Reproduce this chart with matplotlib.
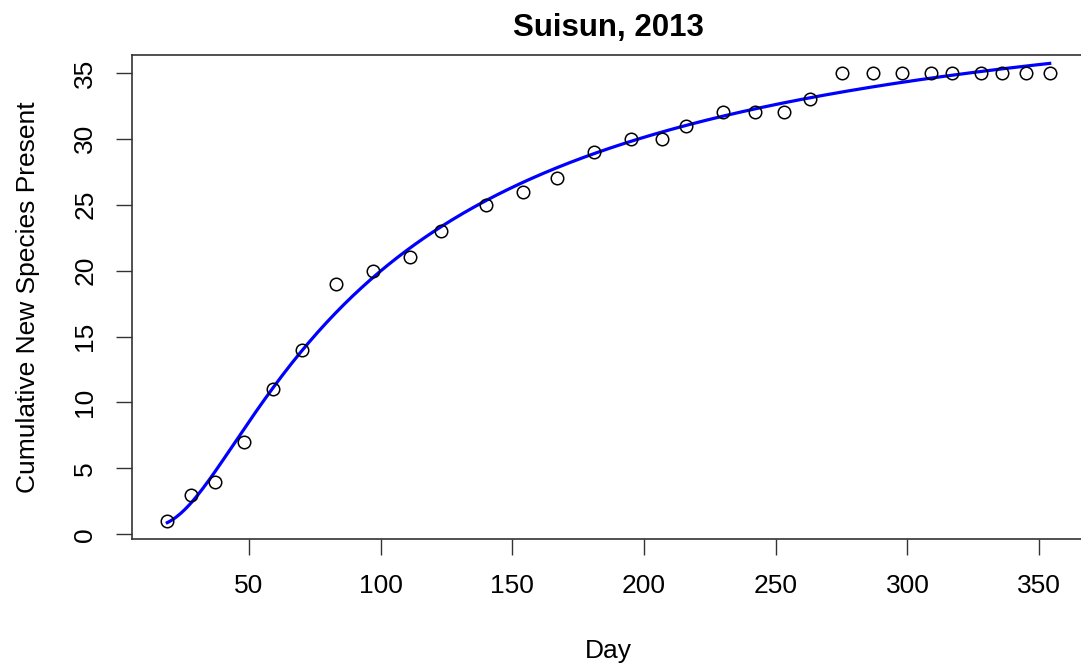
import numpy as np
import matplotlib.pyplot as plt

# Sampling day and cumulative count of new species seen by that day
days = np.array([19, 28, 37, 48, 59, 70, 83, 97, 111, 123, 140, 154, 167, 181,
                 195, 207, 216, 230, 242, 253, 263, 275, 287, 298, 309, 317,
                 328, 336, 345, 354])
species = np.array([1, 3, 4, 7, 11, 14, 19, 20, 21, 23, 25, 26, 27, 29,
                    30, 30, 31, 32, 32, 32, 33, 35, 35, 35, 35, 35,
                    35, 35, 35, 35])

title = 'Suisun, 2013'
xlabel = 'Day'
ylabel = 'Cumulative New Species Present'
xticks = [50, 100, 150, 200, 250, 300, 350]
yticks = [0, 5, 10, 15, 20, 25, 30, 35]


def fit_w14(x, y):
    # four-parameter Weibull (type 1, negative slope):
    # y = c + (d - c) * exp(-(e / x)^k); grid over (k, e), c and d by least squares
    ks = np.linspace(0.3, 5, 236)
    es = np.linspace(10, 400, 391)
    K, E = np.meshgrid(ks, es, indexing='ij')
    G = np.exp(-(E[..., None] / x) ** K[..., None])
    gm = G.mean(-1, keepdims=True)
    ym = y.mean()
    slope = ((G - gm) * (y - ym)).sum(-1) / ((G - gm) ** 2).sum(-1)
    inter = ym - slope * gm[..., 0]
    sse = ((inter[..., None] + slope[..., None] * G - y) ** 2).sum(-1)
    i, j = np.unravel_index(np.argmin(sse), sse.shape)
    k, e, c, s = ks[i], es[j], inter[i, j], slope[i, j]
    return lambda t: c + s * np.exp(-(e / t) ** k)


model = fit_w14(days.astype(float), species.astype(float))
xs = np.linspace(days.min(), days.max(), 400)

plt.rcParams['font.family'] = ['Liberation Sans', 'DejaVu Sans']

fig = plt.figure(figsize=(10.81, 6.66), dpi=100)
ax = fig.add_axes([132 / 1081, 1 - 539 / 666, 953 / 1081, 484 / 666])

ax.plot(xs, model(xs), color='#0000ff', lw=2.3, zorder=2)
ax.plot(days, species, 'o', mfc='none', mec='black', mew=1.1, ms=9, zorder=3)

pad_x = 0.04 * (days.max() - days.min())
pad_y = 0.04 * (species.max() - species.min())
ax.set_xlim(days.min() - pad_x, days.max() + pad_x)
ax.set_ylim(species.min() - pad_y, species.max() + pad_y)

ax.set_xticks(xticks)
ax.set_yticks(yticks)
ax.tick_params(length=11.5, width=1.0, color='#333333', labelsize=19,
               pad=13.5)
for lab in ax.get_yticklabels():
    lab.set_rotation(90)
    lab.set_va('center')

for sp in ax.spines.values():
    sp.set_linewidth(1.2)
    sp.set_color('#333333')

ax.set_title(title, fontsize=22.5, fontweight='bold', pad=14)
ax.set_xlabel(xlabel, fontsize=19, labelpad=29.5)
ax.set_ylabel(ylabel, fontsize=19, labelpad=24)

fig.savefig('out.png', dpi=100)
